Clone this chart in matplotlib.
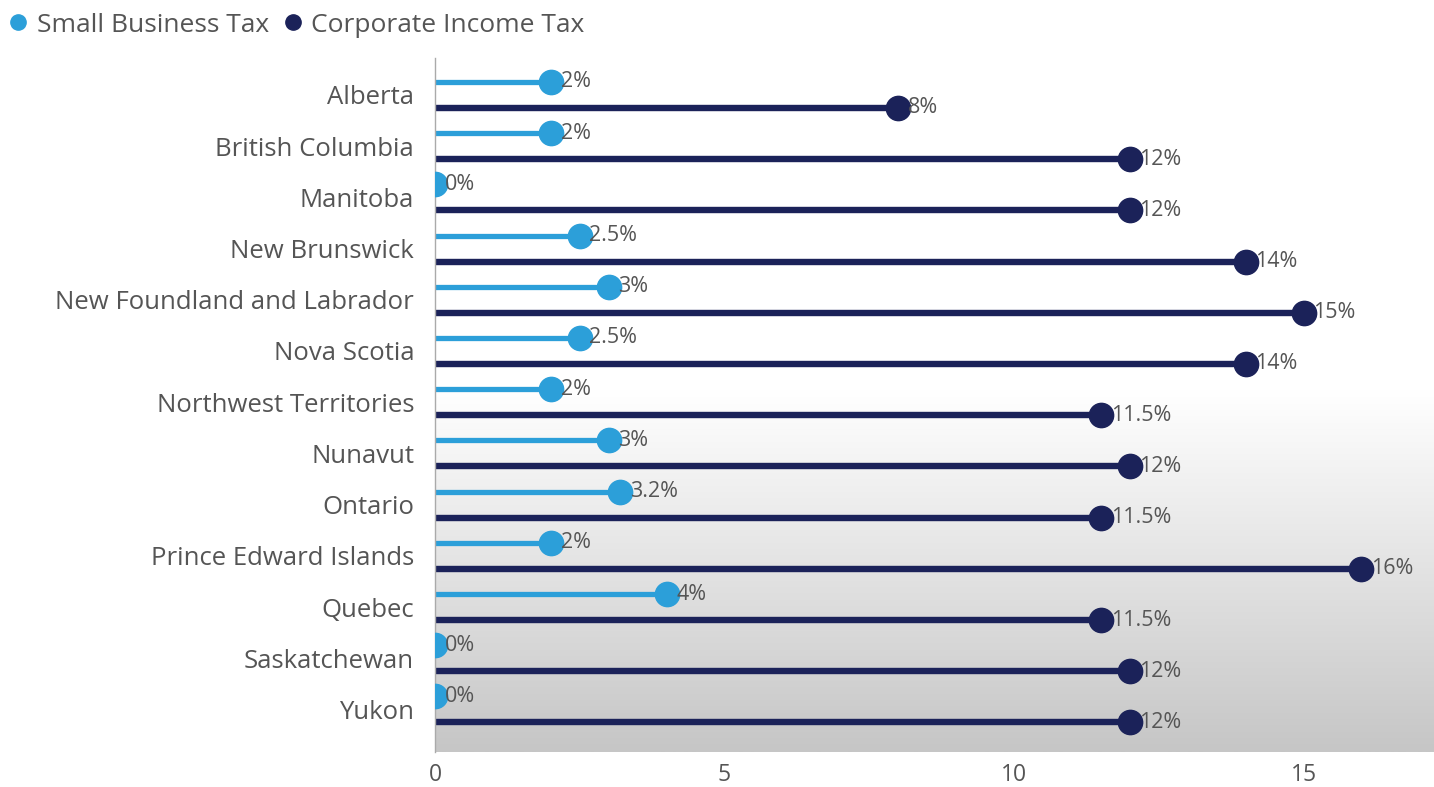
import numpy as np
import matplotlib
matplotlib.use("Agg")
import matplotlib.pyplot as plt
from matplotlib.colors import LinearSegmentedColormap
from matplotlib.lines import Line2D

# data
provinces = ["Alberta", "British Columbia", "Manitoba", "New Brunswick",
             "New Foundland and Labrador", "Nova Scotia", "Northwest Territories",
             "Nunavut", "Ontario", "Prince Edward Islands", "Quebec",
             "Saskatchewan", "Yukon"]
small_business = [2, 2, 0, 2.5, 3, 2.5, 2, 3, 3.2, 2, 4, 0, 0]
corporate = [8, 12, 12, 14, 15, 14, 11.5, 12, 11.5, 16, 11.5, 12, 12]
xticks = [0, 5, 10, 15]

sbt_color = "#2c9fd9"
cit_color = "#1b2259"
text_color = "#555555"

plt.rcParams["font.family"] = ["Open Sans", "DejaVu Sans"]

fig = plt.figure(figsize=(14.34, 7.87), dpi=100)
ax = fig.add_axes([435 / 1434, 1 - 752 / 787, 1 - 435 / 1434, (752 - 58) / 787])

ypos = np.arange(len(provinces))
off = 0.254

# gradient background: white on top half, grey towards the bottom
grad = np.linspace(0, 1, 256).reshape(-1, 1)
cmap = LinearSegmentedColormap.from_list("bg", [(0, "#c6c6c6"), (0.52, "#ffffff"), (1, "#ffffff")])
ax.imshow(grad, aspect="auto", cmap=cmap, origin="lower",
          extent=[0, 1, 0, 1], transform=ax.transAxes, zorder=0)

for i, (s, c) in enumerate(zip(small_business, corporate)):
    ys = ypos[i] - off
    yc = ypos[i] + off
    ax.plot([0, s], [ys, ys], color=sbt_color, lw=3.8, solid_capstyle="butt", zorder=2)
    ax.plot([s], [ys], "o", color=sbt_color, ms=17.5, zorder=3)
    ax.plot([0, c], [yc, yc], color=cit_color, lw=4.6, solid_capstyle="butt", zorder=2)
    ax.plot([c], [yc], "o", color=cit_color, ms=17.5, zorder=3)
    ax.annotate(f"{s:g}%", (s, ys), xytext=(7, 0), textcoords="offset points",
                va="center", ha="left", fontsize=15.5, color=text_color, zorder=4)
    ax.annotate(f"{c:g}%", (c, yc), xytext=(7, 0), textcoords="offset points",
                va="center", ha="left", fontsize=15.5, color=text_color, zorder=4)

ax.set_xlim(0, 999 / 57.9)
ax.set_ylim(12.83, -0.72)
ax.set_yticks(ypos)
ax.set_yticklabels(provinces)
ax.set_xticks(xticks)
ax.tick_params(axis="both", length=0, colors=text_color)
ax.tick_params(axis="y", pad=15, labelsize=18.5)
ax.tick_params(axis="x", pad=8, labelsize=16.5)
for side in ["top", "right", "bottom"]:
    ax.spines[side].set_visible(False)
ax.spines["left"].set_color("#aaaaaa")
ax.spines["left"].set_linewidth(1)

handles = [Line2D([], [], marker="o", ls="", color=sbt_color, ms=11),
           Line2D([], [], marker="o", ls="", color=cit_color, ms=11)]
fig.legend(handles, ["Small Business Tax", "Corporate Income Tax"], loc="upper left",
           bbox_to_anchor=(-0.013, 1.014), ncol=2, frameon=False, fontsize=19,
           handletextpad=0.2, columnspacing=0.4, handlelength=1.0,
           labelcolor=text_color)

fig.savefig("out.png", dpi=100)
